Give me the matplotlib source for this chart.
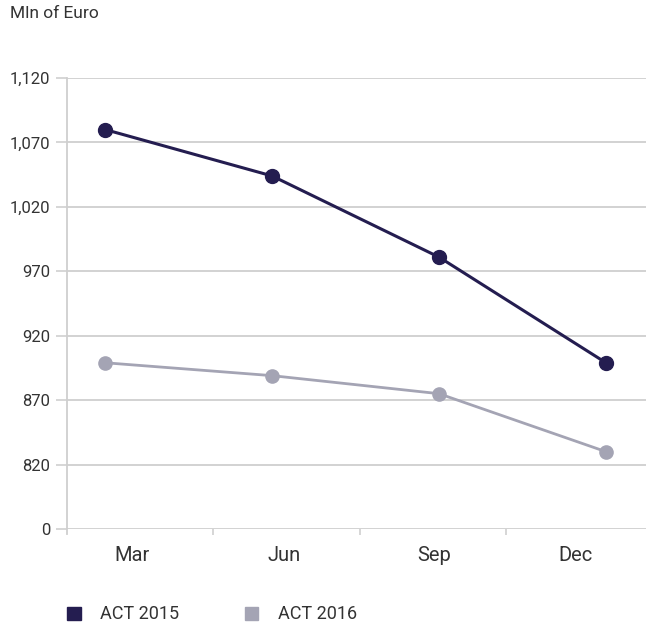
import matplotlib
matplotlib.use("Agg")
import matplotlib.pyplot as plt
from matplotlib.patches import Patch

plt.rcParams['font.family'] = ['Roboto', 'DejaVu Sans']

months = ["Mar", "Jun", "Sep", "Dec"]
act_2015 = [1080, 1044, 981, 899]
act_2016 = [899, 889, 875, 830]
series_names = ["ACT 2015", "ACT 2016"]

# broken y axis: the lowest gridline is labelled 0
y_ticks = [770, 820, 870, 920, 970, 1020, 1070, 1120]
y_tick_labels = ["0", "820", "870", "920", "970", "1,020", "1,070", "1,120"]

dark = "#241d50"
grey = "#a4a4b4"
grid = "#cfcfcf"
text = "#333333"

fig = plt.figure(figsize=(6.46, 6.26), dpi=100)
ax = fig.add_axes([0.1037, 0.155, 0.8963, 0.7204])

x = list(range(len(months)))
ax.plot(x, act_2016, color=grey, lw=2.0, marker="o", ms=9.5,
        mec=grey, mfc=grey, zorder=3, clip_on=False)
ax.plot(x, act_2015, color=dark, lw=2.2, marker="o", ms=10,
        mec=dark, mfc=dark, zorder=4, clip_on=False)

ax.set_xlim(-0.228, 3.24)
ax.set_ylim(770, 1120)

ax.set_yticks(y_ticks)
ax.set_yticklabels(y_tick_labels)
ax.yaxis.grid(True, color=grid, lw=1.3)
ax.set_axisbelow(True)
ax.tick_params(axis="y", length=8, width=1.2, color=grid, pad=4,
               labelsize=12, labelcolor=text)

# category labels sit between the small separator ticks
ax.set_xticks([0.16, 1.07, 1.97, 2.82])
ax.set_xticklabels(months)
ax.set_xticks([0.647, 1.527, 2.40], minor=True)
ax.tick_params(axis="x", which="major", length=0, pad=12,
               labelsize=14.5, labelcolor=text)
ax.tick_params(axis="x", which="minor", length=4, width=1.2, color=grid)

for s in ["top", "right", "bottom"]:
    ax.spines[s].set_visible(False)
ax.spines["left"].set_color(grid)
ax.spines["left"].set_linewidth(1.3)
ax.spines["left"].set_bounds(766, 1120)

fig.text(0.015, 0.99, "Mln of Euro", fontsize=12.5, color=text,
         ha="left", va="top")

handles = [Patch(facecolor=dark, edgecolor=dark),
           Patch(facecolor=grey, edgecolor=grey)]
fig.legend(handles, series_names, loc="lower left",
           bbox_to_anchor=(0.1037, 0.004), ncol=2, frameon=False,
           borderpad=0, borderaxespad=0,
           fontsize=13, labelcolor=text, handlelength=0.75,
           handleheight=0.75, handletextpad=1.1, columnspacing=3.6)

fig.savefig("out.png", dpi=100, facecolor="white")
